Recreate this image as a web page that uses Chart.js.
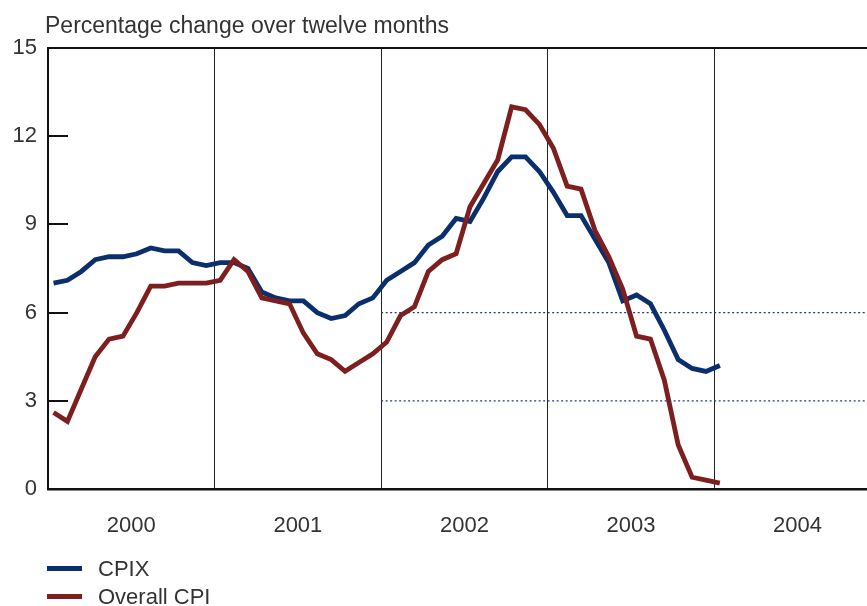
<!DOCTYPE html>
<html>
<head>
<meta charset="utf-8">
<script src="https://cdn.jsdelivr.net/npm/chart.js@4.4.1/dist/chart.umd.min.js"></script>
<style>
  body { margin: 0; background: #fff; }
  #wrap { position: relative; width: 867px; height: 606px; font-family: "Liberation Sans", Arial, sans-serif; color: #333; }
  #title { position: absolute; left: 45px; top: 14px; font-size: 23px; line-height: 22px; white-space: nowrap; }
  .key { position: absolute; left: 47px; font-size: 22px; line-height: 22px; white-space: nowrap; }
  .key span { display: inline-block; width: 35px; height: 5px; vertical-align: middle; margin-right: 16px; position: relative; top: -2px; }
</style>
</head>
<body>
<div id="wrap">
  <canvas id="myChart" width="867" height="606"></canvas>
  <div id="title">Percentage change over twelve months</div>
  <div class="key" style="top:558px"><span style="background:#0b2f6c"></span>CPIX</div>
  <div class="key" style="top:586px"><span style="background:#7e1f1f"></span>Overall CPI</div>
</div>
<script>
// year labels and monthly values, Jan 2000 - Jan 2004
const years = ["2000", "2001", "2002", "2003", "2004"];
const yTicks = [0, 3, 6, 9, 12, 15];
const cpix = [
    7.0, 7.1, 7.4, 7.8, 7.9, 7.9, 8.0, 8.2, 8.1, 8.1, 7.7, 7.6,
    7.7, 7.7, 7.5, 6.7, 6.5, 6.4, 6.4, 6.0, 5.8, 5.9, 6.3, 6.5,
    7.1, 7.4, 7.7, 8.3, 8.6, 9.2, 9.1, 9.9, 10.8, 11.3, 11.3, 10.8,
    10.1, 9.3, 9.3, 8.5, 7.7, 6.4, 6.6, 6.3, 5.4, 4.4, 4.1, 4.0,
    4.2
];
const cpi = [
    2.6, 2.3, 3.4, 4.5, 5.1, 5.2, 6.0, 6.9, 6.9, 7.0, 7.0, 7.0,
    7.1, 7.8, 7.4, 6.5, 6.4, 6.3, 5.3, 4.6, 4.4, 4.0, 4.3, 4.6,
    5.0, 5.9, 6.2, 7.4, 7.8, 8.0, 9.6, 10.4, 11.2, 13.0, 12.9, 12.4,
    11.6, 10.3, 10.2, 8.8, 7.9, 6.8, 5.2, 5.1, 3.7, 1.5, 0.4, 0.3,
    0.2
];
// inflation target band, from January 2002
const targetLow = 3;
const targetHigh = 6;
const targetStart = 24;

const toPoints = arr => arr.map((v, i) => ({ x: i + 0.4, y: v }));
const font = { family: "'Liberation Sans', Arial, sans-serif", size: 22 };

// short tick marks inside the left axis
const innerTicks = {
    id: 'innerTicks',
    beforeDatasetsDraw(chart) {
        const { ctx, chartArea, scales } = chart;
        ctx.save();
        ctx.strokeStyle = '#111';
        ctx.lineWidth = 2;
        yTicks.slice(1, -1).forEach(v => {
            const py = Math.round(scales.y.getPixelForValue(v));
            ctx.beginPath();
            ctx.moveTo(chartArea.left, py);
            ctx.lineTo(chartArea.left + 20, py);
            ctx.stroke();
        });
        ctx.restore();
    }
};

const targetLine = v => ({
    data: [{ x: targetStart, y: v }, { x: 59, y: v }],
    borderColor: '#1e3c78',
    borderWidth: 1.3,
    borderDash: [2, 2.5],
    pointRadius: 0
});

new Chart(document.getElementById('myChart'), {
    type: 'line',
    data: {
        datasets: [
            targetLine(targetHigh),
            targetLine(targetLow),
            { label: 'Overall CPI', data: toPoints(cpi), borderColor: '#7e1f1f', borderWidth: 4.8, pointRadius: 0 },
            { label: 'CPIX', data: toPoints(cpix), borderColor: '#0b2f6c', borderWidth: 4.8, pointRadius: 0 }
        ]
    },
    options: {
        responsive: false,
        animation: false,
        layout: { padding: { top: 48, right: 0, left: 0, bottom: 0 } },
        plugins: { legend: { display: false }, tooltip: { enabled: false } },
        scales: {
            x: {
                type: 'linear',
                min: 0,
                max: 59,
                afterBuildTicks: s => { s.ticks = [0, 6, 12, 18, 24, 30, 36, 42, 48, 54].map(v => ({ value: v })); },
                afterFit: s => { s.height = 117; },
                grid: {
                    color: c => (c.tick && c.tick.value > 0 && c.tick.value % 12 === 0) ? '#222' : 'rgba(0,0,0,0)',
                    lineWidth: 1,
                    drawTicks: false
                },
                border: { color: '#111', width: 2.5 },
                ticks: {
                    autoSkip: false,
                    maxRotation: 0,
                    padding: 24,
                    color: '#333',
                    font: font,
                    callback: v => (v % 12 === 6 ? years[(v - 6) / 12] : '')
                }
            },
            y: {
                min: 0,
                max: 15,
                afterBuildTicks: s => { s.ticks = yTicks.map(v => ({ value: v })); },
                afterFit: s => { s.width = 48; },
                grid: {
                    color: c => (c.tick && c.tick.value === 15) ? '#111' : 'rgba(0,0,0,0)',
                    lineWidth: 2,
                    drawTicks: false
                },
                border: { color: '#111', width: 2 },
                ticks: { padding: 11, color: '#333', font: font }
            }
        }
    },
    plugins: [innerTicks]
});
</script>
</body>
</html>
